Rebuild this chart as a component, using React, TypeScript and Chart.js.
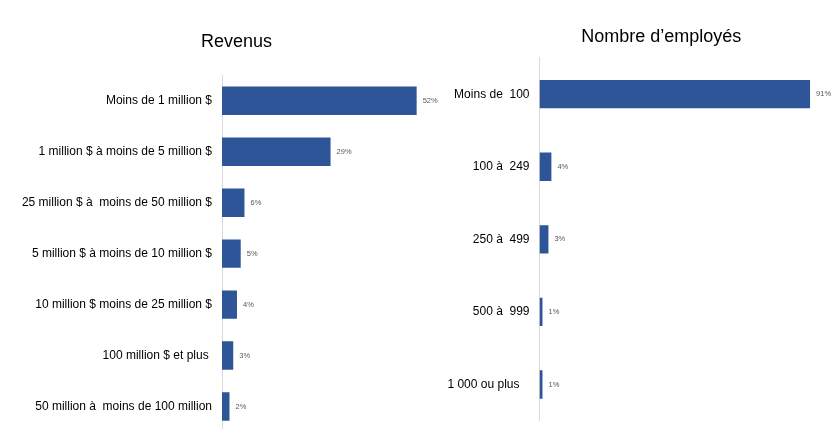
import React, { useEffect, useRef } from 'react';
import { Chart, registerables } from 'chart.js';

Chart.register(...registerables);

const revenueTitle = 'Revenus';
const revenueCategories = [
  'Moins de 1 million $',
  '1 million $ à moins de 5 million $',
  '25 million $ à  moins de 50 million $',
  '5 million $ à moins de 10 million $',
  '10 million $ moins de 25 million $',
  '100 million $ et plus ',
  '50 million à  moins de 100 million',
];
const revenueValues = [52, 29, 6, 5, 4, 3, 2];

const employeeTitle = 'Nombre d’employés';
const employeeCategories = ['Moins de  100', '100 à  249', '250 à  499', '500 à  999', '1 000 ou plus   '];
const employeeValues = [91, 4, 3, 1, 1];

const BAR_COLOR = '#2e5597';
const FONT = '"Liberation Sans", Arial, sans-serif';

const valueLabelPlugin = {
  id: 'valueLabels',
  afterDatasetsDraw(chart: any) {
    const ctx = chart.ctx;
    const meta = chart.getDatasetMeta(0);
    const data = chart.data.datasets[0].data;
    ctx.save();
    ctx.font = '7.5px ' + FONT;
    ctx.fillStyle = '#595959';
    ctx.textAlign = 'left';
    ctx.textBaseline = 'middle';
    meta.data.forEach((bar: any, i: number) => {
      ctx.fillText(data[i] + '%', bar.x + 6, bar.y);
    });
    ctx.restore();
  },
};

type Props = {
  title: string;
  labels: string[];
  values: number[];
  left: number;
  width: number;
  height: number;
  padR: number;
  padB: number;
  titleTop: number;
  titleBottom: number;
  yWidth: number;
  xMax: number;
  barPct: number;
};

function BarChart(p: Props) {
  const ref = useRef<HTMLCanvasElement | null>(null);
  useEffect(() => {
    if (!ref.current) return;
    const chart = new Chart(ref.current, {
      type: 'bar',
      data: {
        labels: p.labels,
        datasets: [
          {
            data: p.values,
            backgroundColor: BAR_COLOR,
            borderWidth: 0,
            barPercentage: p.barPct,
            categoryPercentage: 1,
          },
        ],
      },
      options: {
        indexAxis: 'y',
        animation: false,
        responsive: false,
        layout: { padding: { left: 0, right: p.padR, top: 0, bottom: p.padB } },
        plugins: {
          legend: { display: false },
          tooltip: { enabled: false },
          title: {
            display: true,
            text: p.title,
            color: '#000',
            font: { family: FONT, size: 18, weight: 'normal' },
            padding: { top: p.titleTop, bottom: p.titleBottom },
          },
        },
        scales: {
          x: { display: false, min: 0, max: p.xMax },
          y: {
            afterFit: (s: any) => {
              s.width = p.yWidth;
              s.paddingTop = 0;
              s.paddingBottom = 0;
            },
            grid: { display: false, drawTicks: false },
            border: { display: true, color: '#d9d9d9', width: 1 },
            ticks: { color: '#000', font: { family: FONT, size: 12 }, padding: 10 },
          },
        },
      } as any,
      plugins: [valueLabelPlugin],
    });
    return () => chart.destroy();
  }, []);
  return (
    <canvas
      ref={ref}
      width={p.width}
      height={p.height}
      style={{ position: 'absolute', left: p.left, top: 0, width: p.width, height: p.height }}
    />
  );
}

export default function App() {
  return (
    <div
      style={{
        position: 'absolute',
        left: 0,
        top: 0,
        width: 839,
        height: 429,
        overflow: 'hidden',
        background: '#fff',
      }}
    >
      <BarChart
        title={revenueTitle}
        labels={revenueCategories}
        values={revenueValues}
        left={0}
        width={474}
        height={440}
        padR={1.2}
        padB={8}
        titleTop={31}
        titleBottom={22.7}
        yWidth={222}
        xMax={67}
        barPct={0.557}
      />
      <BarChart
        title={employeeTitle}
        labels={employeeCategories}
        values={employeeValues}
        left={441}
        width={445}
        height={429}
        padR={4.6}
        padB={8.2}
        titleTop={26.2}
        titleBottom={10.1}
        yWidth={98.5}
        xMax={115}
        barPct={0.39}
      />
    </div>
  );
}
